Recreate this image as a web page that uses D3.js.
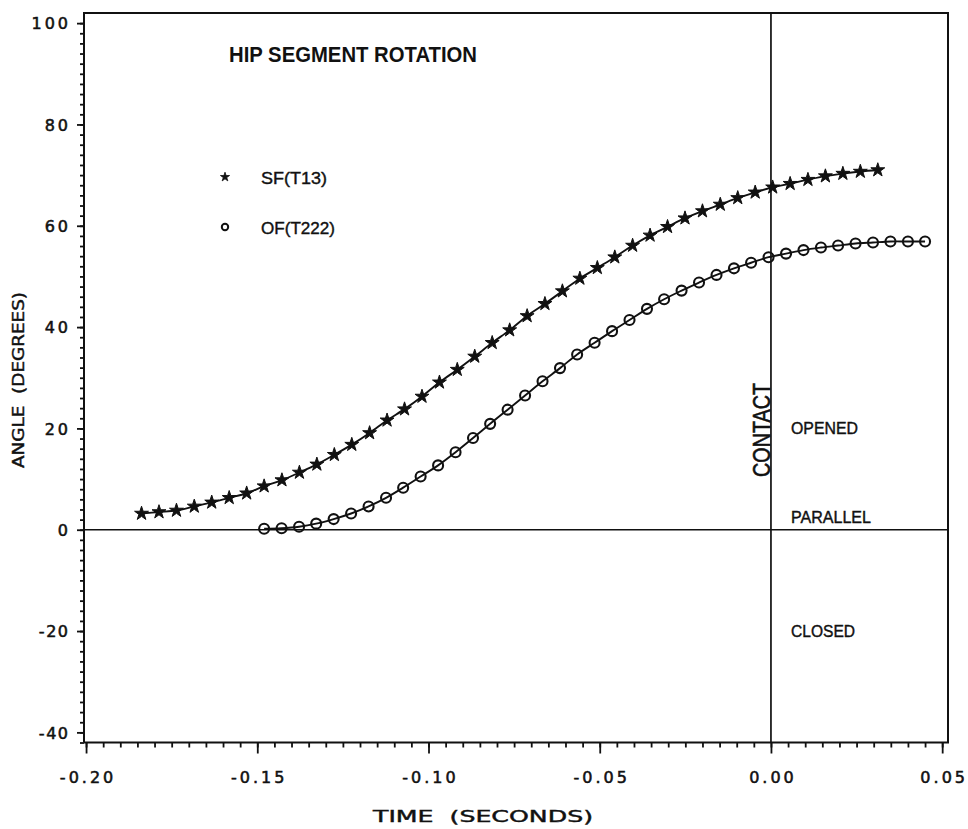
<!DOCTYPE html>
<html>
<head>
<meta charset="utf-8">
<script src="https://cdn.jsdelivr.net/npm/d3@7"></script>
<style>
  html, body { margin: 0; padding: 0; background: #fff; }
  svg { display: block; }
</style>
</head>
<body>
<svg id="chart" width="968" height="829"></svg>
<script>
// ---- DATA ----
const timeSF = [-0.1838,-0.1787,-0.1736,-0.1684,-0.1633,-0.1582,-0.1531,-0.1480,-0.1428,-0.1377,
  -0.1326,-0.1275,-0.1224,-0.1172,-0.1121,-0.1070,-0.1019,-0.0968,-0.0916,-0.0865,
  -0.0814,-0.0763,-0.0712,-0.0660,-0.0609,-0.0558,-0.0507,-0.0456,-0.0404,-0.0353,
  -0.0302,-0.0251,-0.0200,-0.0148,-0.0097,-0.0046,0.0005,0.0056,0.0108,0.0159,
  0.0210,0.0261,0.0312];
const angleSF = [3.2,3.5,3.8,4.6,5.4,6.3,7.2,8.6,9.8,11.3,
  12.9,14.8,16.8,19.1,21.6,23.8,26.3,29.1,31.6,34.2,
  36.9,39.4,42.2,44.6,47.1,49.6,51.7,53.8,56.1,58.1,
  59.8,61.5,62.9,64.2,65.5,66.6,67.6,68.3,69.1,69.8,
  70.3,70.7,71.0];
const timeOF = [-0.1480,-0.1429,-0.1378,-0.1328,-0.1277,-0.1226,-0.1175,-0.1124,-0.1074,-0.1023,
  -0.0972,-0.0921,-0.0870,-0.0820,-0.0769,-0.0718,-0.0667,-0.0616,-0.0566,-0.0515,
  -0.0464,-0.0413,-0.0362,-0.0312,-0.0261,-0.0210,-0.0159,-0.0108,-0.0058,-0.0007,
  0.0044,0.0095,0.0146,0.0196,0.0247,0.0298,0.0349,0.0400,0.0450];
const angleOF = [0.2,0.3,0.6,1.2,2.1,3.2,4.6,6.3,8.3,10.5,
  12.7,15.3,18.1,20.9,23.7,26.5,29.3,31.9,34.6,36.9,
  39.2,41.4,43.6,45.5,47.2,48.8,50.3,51.6,52.7,53.8,
  54.5,55.2,55.7,56.1,56.5,56.7,56.9,56.9,56.9];
const seriesNames = ["SF(T13)", "OF(T222)"];
const xTickValues = [-0.20, -0.15, -0.10, -0.05, 0.00, 0.05];
const yTickValues = [-40, -20, 0, 20, 40, 60, 80, 100];
const contactTime = 0.0;
const regionLabels = [
  {text: "OPENED", value: 20},
  {text: "PARALLEL", value: 0},
  {text: "CLOSED", value: -20}
];
const titleText = "HIP SEGMENT ROTATION";
const xTitle = "TIME  (SECONDS)";
const yTitle = "ANGLE  (DEGREES)";

// ---- LAYOUT ----
const svg = d3.select("#chart");
const L = 84, R = 948, T = 13, B = 742.5;
const x = d3.scaleLinear().domain([-0.2006, 0.0517]).range([L, R]);
const y = d3.scaleLinear().domain([-42, 102]).range([B, T]);
const ink = "#111";

const sf = timeSF.map((t, i) => ({t, v: angleSF[i]}));
const of = timeOF.map((t, i) => ({t, v: angleOF[i]}));

// frame
svg.append("path")
  .attr("d", `M${L},${B} L${L},${T} L${R},${T} L${R},${B} L${L},${B}`)
  .attr("fill", "none").attr("stroke", ink).attr("stroke-width", 2);

// zero line
svg.append("line").attr("x1", L).attr("x2", R).attr("y1", y(0)).attr("y2", y(0))
  .attr("stroke", ink).attr("stroke-width", 1.7);
// contact line
svg.append("line").attr("x1", x(contactTime)).attr("x2", x(contactTime)).attr("y1", T).attr("y2", B)
  .attr("stroke", ink).attr("stroke-width", 1.7);

// axes: minor ticks
const xMinor = d3.range(-40, 11).map(k => k * 0.005);
const yMinor = d3.range(-21, 51).map(k => k * 2);
const axisFont = "'DejaVu Sans', sans-serif";

const gxm = svg.append("g").attr("transform", `translate(0,${B})`)
  .call(d3.axisBottom(x).tickValues(xMinor).tickSize(5).tickFormat(""));
const gx = svg.append("g").attr("transform", `translate(0,${B})`)
  .call(d3.axisBottom(x).tickValues(xTickValues).tickSize(11).tickPadding(18)
    .tickFormat(d3.format(".2f")));
const gym = svg.append("g").attr("transform", `translate(${L},0)`)
  .call(d3.axisLeft(y).tickValues(yMinor).tickSize(4).tickFormat(""));
const gy = svg.append("g").attr("transform", `translate(${L},0)`)
  .call(d3.axisLeft(y).tickValues(yTickValues).tickSize(7).tickPadding(9)
    .tickFormat(d => d3.format("d")(d).replace("−", "-")));

[gxm, gx, gym, gy].forEach(g => {
  g.select(".domain").remove();
  g.selectAll("line").attr("stroke", ink).attr("stroke-width", 1.8);
});
gx.selectAll("text").text(d => d3.format(".2f")(d).replace("−", "-"))
  .attr("font-family", axisFont).attr("font-size", 16).attr("fill", ink)
  .attr("stroke", ink).attr("stroke-width", 0.55)
  .attr("letter-spacing", "3px").attr("dx", "1.5px");
gy.selectAll("text")
  .attr("font-family", axisFont).attr("font-size", 16).attr("fill", ink)
  .attr("stroke", ink).attr("stroke-width", 0.55)
  .attr("letter-spacing", d => d < 0 ? "1.5px" : "3px")
  .attr("dx", d => d < 0 ? "1.5px" : "3px").attr("dy", "0.36em");

// axis titles
svg.append("text").attr("x", 483).attr("y", 822).attr("text-anchor", "middle")
  .attr("font-family", axisFont).attr("font-size", 15).attr("fill", ink)
  .attr("stroke", ink).attr("stroke-width", 0.4)
  .attr("textLength", 220).attr("lengthAdjust", "spacingAndGlyphs")
  .style("white-space", "pre")
  .text(xTitle);
svg.append("text").attr("transform", `translate(24,380) rotate(-90)`).attr("text-anchor", "middle")
  .attr("font-family", axisFont).attr("font-size", 15).attr("fill", ink)
  .attr("stroke", ink).attr("stroke-width", 0.4)
  .attr("textLength", 176).attr("lengthAdjust", "spacingAndGlyphs")
  .style("white-space", "pre")
  .text(yTitle);

// lines
const line = d3.line().x(d => x(d.t)).y(d => y(d.v)).curve(d3.curveCatmullRom);
svg.append("path").datum(sf).attr("d", line).attr("fill", "none").attr("stroke", ink).attr("stroke-width", 1.9);
svg.append("path").datum(of).attr("d", line).attr("fill", "none").attr("stroke", ink).attr("stroke-width", 1.9);

// markers
const star = d3.symbol().type(d3.symbolStar).size(60);
svg.append("g").selectAll("path").data(sf).join("path")
  .attr("transform", d => `translate(${x(d.t)},${y(d.v)})`)
  .attr("d", star).attr("fill", ink).attr("stroke", ink).attr("stroke-width", 1);
svg.append("g").selectAll("circle").data(of).join("circle")
  .attr("cx", d => x(d.t)).attr("cy", d => y(d.v)).attr("r", 5)
  .attr("fill", "none").attr("stroke", ink).attr("stroke-width", 2.1);

// title
const textFont = "'Liberation Sans', Arial, sans-serif";
svg.append("text").attr("x", 229).attr("y", 61.5)
  .attr("font-family", textFont).attr("font-weight", "bold").attr("font-size", 22).attr("fill", ink)
  .attr("textLength", 248).attr("lengthAdjust", "spacingAndGlyphs")
  .text(titleText);

// legend
const legY = [177, 227];
svg.append("path").attr("transform", `translate(225,${legY[0]})`)
  .attr("d", d3.symbol().type(d3.symbolStar).size(26)).attr("fill", ink).attr("stroke", ink).attr("stroke-width", 0.8);
svg.append("circle").attr("cx", 225).attr("cy", legY[1]).attr("r", 3.2).attr("fill", "none")
  .attr("stroke", ink).attr("stroke-width", 2);
const legLen = [66, 74];
seriesNames.forEach((n, i) => {
  svg.append("text").attr("x", 261).attr("y", legY[i] + 6.5)
    .attr("font-family", textFont).attr("font-size", 17).attr("fill", ink)
    .attr("stroke", ink).attr("stroke-width", 0.4)
    .attr("textLength", legLen[i]).attr("lengthAdjust", "spacingAndGlyphs")
    .text(n);
});

// contact label
svg.append("text").attr("transform", `translate(770,477) rotate(-90)`)
  .attr("font-family", textFont).attr("font-size", 24).attr("fill", ink)
  .attr("stroke", ink).attr("stroke-width", 0.6)
  .attr("textLength", 94).attr("lengthAdjust", "spacingAndGlyphs")
  .text("CONTACT");

// region labels
const regLen = {OPENED: 67, PARALLEL: 80, CLOSED: 64};
const regDy = {OPENED: 5.5, PARALLEL: -6.5, CLOSED: 6};
regionLabels.forEach(r => {
  svg.append("text").attr("x", 791).attr("y", y(r.value) + regDy[r.text])
    .attr("font-family", textFont).attr("font-size", 16).attr("fill", ink)
    .attr("stroke", ink).attr("stroke-width", 0.4)
    .attr("textLength", regLen[r.text]).attr("lengthAdjust", "spacingAndGlyphs")
    .text(r.text);
});
</script>
</body>
</html>
